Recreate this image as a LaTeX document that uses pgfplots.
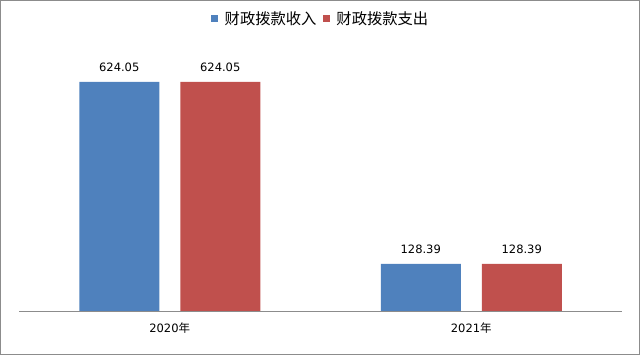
\documentclass[border=0pt]{standalone}
\usepackage{pgfplots}
\pgfplotsset{compat=1.18}
\usepackage{fontspec}
\setmainfont{DejaVu Sans}
\newfontfamily\cjk{Noto Sans CJK SC}
\definecolor{cblue}{HTML}{4F81BD}
\definecolor{cred}{HTML}{C0504D}
\definecolor{frame}{HTML}{8C8C8C}
\begin{document}
\begin{tikzpicture}
\useasboundingbox (0,0) rectangle (640bp,355bp);
\draw[frame, line width=1bp] (0.5bp,0.5bp) rectangle (639.5bp,354.5bp);
\begin{axis}[
  at={(19bp,44bp)}, anchor=south west,
  scale only axis, width=603bp, height=257bp,
  ybar=21bp, bar width=80bp,
  xmin=-0.5, xmax=1.5, ymin=0, ymax=700,
  axis y line=none,
  axis x line=bottom,
  x axis line style={-, draw=frame, line width=0.8bp},
  xtick={0,1}, xticklabels={2020{\cjk 年},2021{\cjk 年}},
  xtick style={draw=none},
  xticklabel style={font=\fontsize{11.5bp}{13bp}\selectfont, yshift=-6bp},
  /pgf/number format/assume math mode=true,
  nodes near coords={\pgfmathprintnumber[fixed,precision=2,fixed zerofill]{\pgfplotspointmeta}},
  nodes near coords style={font=\fontsize{11.5bp}{13bp}\selectfont, anchor=south, yshift=7bp},
  legend columns=2,
  legend style={draw=none, at={(0.5,1)}, anchor=center, yshift=35bp,
    font=\cjk\fontsize{15.3bp}{17bp}\selectfont,
    /tikz/every odd column/.append style={column sep=5bp},
    /tikz/every even column/.append style={column sep=4bp}},
  legend image code/.code={\fill[#1] (0bp,-3.5bp) rectangle (7bp,3.5bp);},
  clip=false,
]
\addplot[fill=cblue, draw=none] coordinates {(0,624.05) (1,128.39)};
\addplot[fill=cred, draw=none] coordinates {(0,624.05) (1,128.39)};
\legend{财政拨款收入,财政拨款支出}
\end{axis}
\end{tikzpicture}
\end{document}
